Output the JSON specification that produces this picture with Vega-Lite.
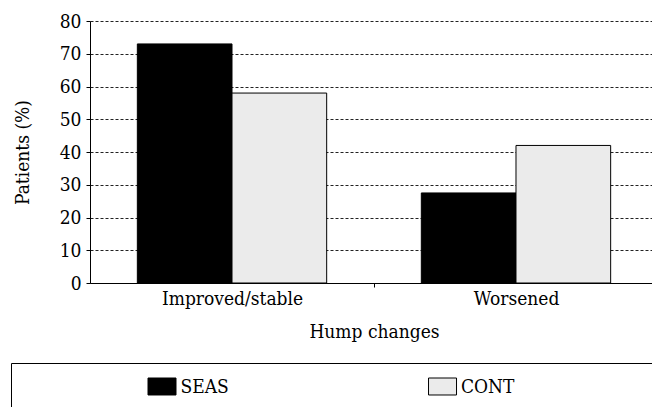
{
  "$schema": "https://vega.github.io/schema/vega-lite/v6.json",
  "padding": {"left": 10, "top": 12, "right": 0, "bottom": 0},
  "spacing": 21,
  "background": "white",
  "config": {
    "font": "DejaVu Serif Condensed, DejaVu Serif",
    "view": {"stroke": null},
    "axis": {
      "labelFont": "DejaVu Serif Condensed, DejaVu Serif",
      "titleFont": "DejaVu Serif Condensed, DejaVu Serif",
      "labelFontSize": 19,
      "titleFontSize": 19,
      "labelColor": "black",
      "titleColor": "black",
      "domainColor": "black",
      "tickColor": "black",
      "titleFontWeight": "normal"
    }
  },
  "datasets": {
    "hump": [
      {"change": "Improved/stable", "group": "SEAS", "pct": 73},
      {"change": "Improved/stable", "group": "CONT", "pct": 58},
      {"change": "Worsened", "group": "SEAS", "pct": 27.5},
      {"change": "Worsened", "group": "CONT", "pct": 42}
    ]
  },
  "vconcat": [
    {
      "spacing": 0,
      "hconcat": [
        {
          "width": 2,
          "height": 262,
          "data": {"values": []},
          "mark": "point"
        },
        {
          "width": 568,
          "height": 262,
          "data": {"name": "hump"},
          "mark": {"type": "bar", "stroke": "black", "strokeWidth": 1},
          "encoding": {
            "x": {
              "field": "change",
              "type": "nominal",
              "sort": ["Improved/stable", "Worsened"],
              "scale": {"paddingInner": 0.3333, "paddingOuter": 0.1667},
              "axis": {
                "title": "Hump changes",
                "labelAngle": 0,
                "tickSize": 4,
                "tickOffset": 142,
                "labelOffset": -142,
                "labelPadding": 2,
                "titleBaseline": "alphabetic",
                "titleY": 54
              }
            },
            "xOffset": {"field": "group", "type": "nominal", "sort": ["SEAS", "CONT"]},
            "y": {
              "field": "pct",
              "type": "quantitative",
              "scale": {"domain": [0, 80], "nice": false},
              "axis": {
                "title": "Patients (%)",
                "values": [0, 10, 20, 30, 40, 50, 60, 70, 80],
                "tickSize": 4,
                "labelPadding": 5,
                "grid": true,
                "gridColor": "#222222",
                "gridDash": [3, 2],
                "gridWidth": 1,
                "gridOpacity": 1,
                "titleX": -68,
                "titleY": 131,
                "titleAngle": 270,
                "titleBaseline": "middle",
                "titleAlign": "center"
              }
            },
            "color": {
              "field": "group",
              "type": "nominal",
              "scale": {"domain": ["SEAS", "CONT"], "range": ["#000000", "#ebebeb"]},
              "legend": null
            }
          }
        }
      ]
    },
    {
      "width": 650,
      "height": 47,
      "view": {"stroke": "black", "strokeWidth": 1},
      "data": {"name": "hump"},
      "transform": [
        {"aggregate": [{"op": "count", "as": "n"}], "groupby": ["group"]}
      ],
      "encoding": {
        "x": {
          "field": "group",
          "type": "nominal",
          "sort": ["SEAS", "CONT"],
          "scale": {"type": "point", "padding": 0.6586, "align": 0.4087},
          "axis": null
        }
      },
      "layer": [
        {
          "mark": {
            "type": "point",
            "shape": "M-1,-0.607L1,-0.607L1,0.607L-1,0.607Z",
            "size": 784,
            "filled": true,
            "stroke": "black",
            "strokeWidth": 1,
            "opacity": 1
          },
          "encoding": {
            "color": {
              "field": "group",
              "type": "nominal",
              "scale": {"domain": ["SEAS", "CONT"], "range": ["#000000", "#ebebeb"]},
              "legend": null
            }
          }
        },
        {
          "mark": {
            "type": "text",
            "align": "left",
            "baseline": "middle",
            "dx": 18.5,
            "fontSize": 19,
            "font": "DejaVu Serif Condensed, DejaVu Serif",
            "color": "black"
          },
          "encoding": {"text": {"field": "group", "type": "nominal"}}
        }
      ]
    }
  ]
}
